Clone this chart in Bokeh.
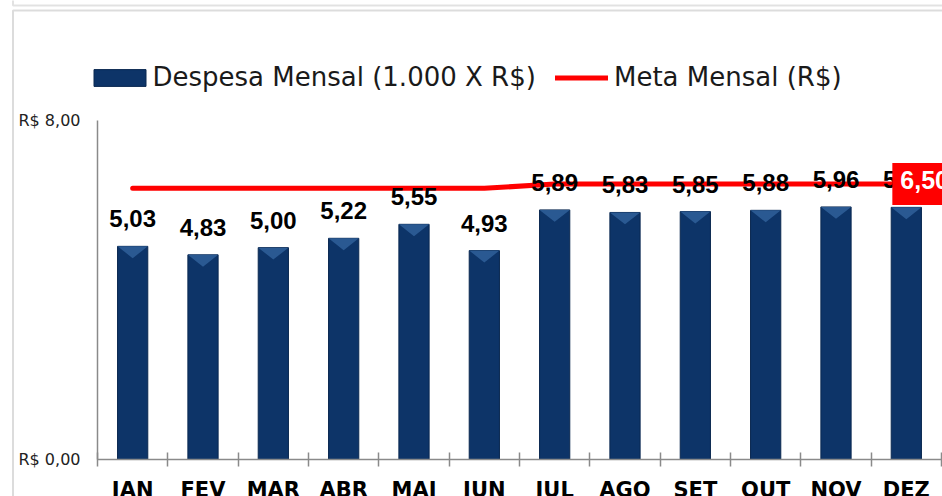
from bokeh.plotting import figure
from bokeh.models import (Range1d, FixedTicker, LabelSet, Label, Legend, LegendItem,
                          BoxAnnotation, ColumnDataSource)
from bokeh.core.properties import value
from bokeh.embed import file_html
from bokeh.resources import INLINE

months = ["JAN", "FEV", "MAR", "ABR", "MAI", "JUN", "JUL", "AGO", "SET", "OUT", "NOV", "DEZ"]
despesa = [5.03, 4.83, 5.00, 5.22, 5.55, 4.93, 5.89, 5.83, 5.85, 5.88, 5.96, 5.95]
meta = [6.40, 6.40, 6.40, 6.40, 6.40, 6.40, 6.50, 6.50, 6.50, 6.50, 6.50, 6.50]
y_ticks = [0, 8]
y_tick_labels = ["R$ 0,00", "R$ 8,00"]

def br(v):
    return f"{v:.2f}".replace(".", ",")

n = len(months)
centers = [i + 0.5 for i in range(n)]
bar_w = 0.43

src = ColumnDataSource(dict(
    x=centers, top=despesa, meta=meta, lbl=[br(v) for v in despesa],
))
bev = ColumnDataSource(dict(
    xs=[[c - bar_w / 2, c + bar_w / 2, c] for c in centers],
    ys=[[v, v, v - 0.28] for v in despesa],
))

W, H = 942, 496
# plot area (pixels): x 0..12 -> 97..941, y 0..8 -> 459..120
X0, X1, Y0, Y1 = 97, 941, 459, 120
px_x = (X1 - X0) / n
px_y = (Y0 - Y1) / (y_ticks[-1] - y_ticks[0])
x_range = Range1d(-X0 / px_x, n + (W - X1) / px_x)
y_range = Range1d(-(H - Y0) / px_y, y_ticks[-1] + Y1 / px_y)

p = figure(width=W, height=H, output_backend="svg", toolbar_location=None,
           x_range=x_range, y_range=y_range,
           min_border_left=0, min_border_right=0, min_border_top=0, min_border_bottom=0)
p.outline_line_color = None
p.xgrid.visible = False
p.ygrid.visible = False
p.background_fill_color = "white"
p.border_fill_color = "white"

bars = p.vbar(x="x", top="top", width=bar_w, source=src,
              fill_color="#0D3468", line_color="#0A2850", line_width=1)
p.patches(xs="xs", ys="ys", source=bev, fill_color="#30609A", fill_alpha=0.85, line_color=None)
line = p.line(x="x", y="meta", source=src, line_color="#FF0000", line_width=5, line_cap="round")

# x axis
ax = p.xaxis[0]
ax.fixed_location = 0
ax.bounds = (0, n)
ax.ticker = FixedTicker(ticks=centers, minor_ticks=list(range(n + 1)))
ax.major_label_overrides = {c: m for c, m in zip(centers, months)}
ax.axis_line_color = "#8A8A8A"
ax.axis_line_width = 1.5
ax.minor_tick_line_color = "#8A8A8A"
ax.minor_tick_line_width = 1.5
ax.minor_tick_in = 7
ax.minor_tick_out = 7
ax.major_tick_line_color = None
ax.major_tick_out = 0
ax.major_tick_in = 0
ax.major_label_standoff = 11
ax.major_label_text_font = "DejaVu Sans"
ax.major_label_text_font_style = "bold"
ax.major_label_text_font_size = "21px"
ax.major_label_text_color = "black"

# y axis
ay = p.yaxis[0]
ay.fixed_location = 0
ay.bounds = (y_ticks[0], y_ticks[-1])
ay.ticker = FixedTicker(ticks=y_ticks)
ay.major_label_overrides = {t: l for t, l in zip(y_ticks, y_tick_labels)}
ay.axis_line_color = "#8A8A8A"
ay.axis_line_width = 1.5
ay.major_tick_line_color = None
ay.minor_tick_line_color = None
ay.major_tick_out = 0
ay.major_tick_in = 0
ay.major_label_standoff = 17
ay.major_label_text_font = "DejaVu Sans"
ay.major_label_text_font_size = "16px"
ay.major_label_text_color = "#222222"

# data labels
p.add_layout(LabelSet(x="x", y="top", text="lbl", source=src, y_offset=19,
                      text_align="center", text_baseline="alphabetic",
                      text_font=value("Liberation Sans"), text_font_style="bold",
                      text_font_size="24px", text_color="black"))

# last meta value label
p.add_layout(Label(x=centers[-1], y=meta[-1], text=br(meta[-1]), x_offset=-14,
                   text_align="left", text_baseline="middle",
                   text_font="Liberation Sans", text_font_style="bold",
                   text_font_size="25px", text_color="white",
                   background_fill_color="#FF0000", padding=(8, 16, 8, 16)))

legend_style = dict(orientation="horizontal", padding=0, margin=0,
                    border_line_color=None, background_fill_alpha=0,
                    label_text_font="DejaVu Sans", label_text_font_size="26px",
                    label_text_color="#1A1A1A")
p.add_layout(Legend(items=[LegendItem(label="Despesa Mensal (1.000 X R$)", renderers=[bars])],
                    location=(86.5, 404), glyph_width=65, glyph_height=21,
                    label_standoff=1, **legend_style))
p.add_layout(Legend(items=[LegendItem(label="Meta Mensal (R$)", renderers=[line])],
                    location=(555, 404), glyph_width=53, glyph_height=17,
                    label_standoff=6, **legend_style))

# chart frames
p.add_layout(BoxAnnotation(left=12.5, right=2000, top=-10, bottom=5,
                           left_units="canvas", right_units="canvas",
                           top_units="canvas", bottom_units="canvas",
                           fill_alpha=0, line_color="#A0A0A0", line_width=2))
p.add_layout(BoxAnnotation(left=12.5, right=2000, top=10, bottom=2000,
                           left_units="canvas", right_units="canvas",
                           top_units="canvas", bottom_units="canvas",
                           fill_alpha=0, line_color="#8C8C8C", line_width=2))

open("out.html", "w").write(file_html(p, INLINE))
